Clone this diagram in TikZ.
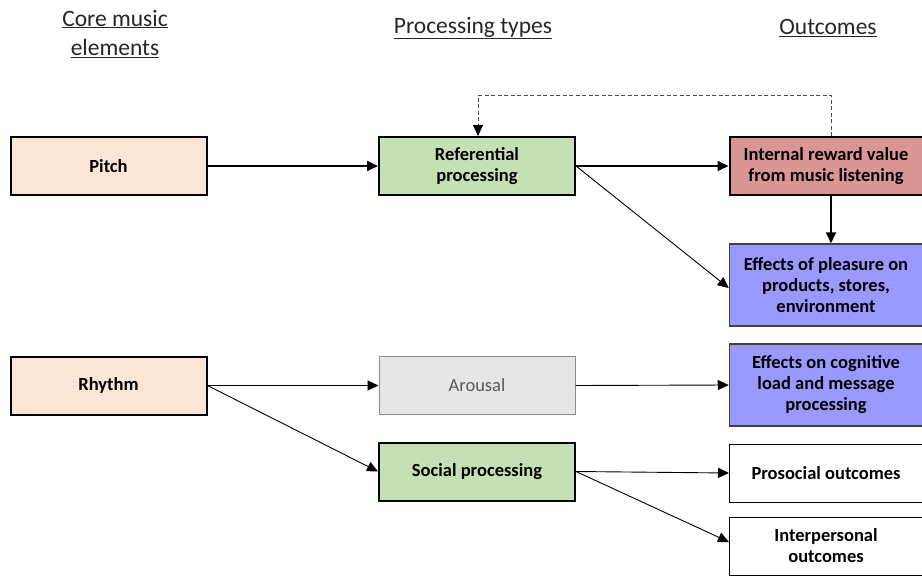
\documentclass[tikz,border=0pt]{standalone}
\usepackage{fontspec}
\setmainfont{Carlito}
\usetikzlibrary{arrows.meta}
\definecolor{peach}{HTML}{FBE5D6}
\definecolor{sage}{HTML}{C5E0B4}
\definecolor{rose}{HTML}{DA9694}
\definecolor{lilac}{HTML}{9999FF}
\definecolor{mist}{HTML}{E7E6E6}
\tikzset{
  box/.style={draw=black, line width=2pt, minimum width=196pt, minimum height=58pt,
    align=center, font=\fontsize{18.5}{21}\selectfont\bfseries, inner sep=2pt},
  outbox/.style={box, minimum width=193pt},
  head/.style={font=\fontsize{23.5}{30}\selectfont, align=center, text=black!85},
  link/.style={-{Triangle[length=11pt,width=10pt]}, line width=0.9pt},
  strong/.style={link, line width=1.8pt},
}
\begin{document}
\begin{tikzpicture}[x=1pt,y=-1pt]
\useasboundingbox (0,0) rectangle (922,576);
\clip (0,0) rectangle (922,576);

% column headings
\node[head] (h1) at (115,34) {\underline{Core music}\\\underline{elements}};
\node[head] (h2) at (473,28) {\underline{Processing types}};
\node[head] (h3) at (828,28) {\underline{Outcomes}};

% core elements
\node[box, fill=peach] (pitch) at (108.5,166) {Pitch};
\node[box, fill=peach] (rhythm) at (108.5,385.5) {Rhythm};

% processing types
\node[box, fill=sage] (ref) at (477,166) {Referential\\processing};
\node[box, fill=mist, draw=black!45, line width=1pt, font=\fontsize{18.5}{21}\selectfont, text=black!65] (arousal) at (477,385.5) {Arousal};
\node[box, fill=sage] (social) at (477,471.5) {Social processing};

% outcomes
\node[outbox, fill=rose] (reward) at (826,166) {Internal reward value\\from music listening};
\node[outbox, fill=lilac, draw=black!75, line width=1.5pt, minimum height=82pt] (pleasure) at (826,285) {Effects of pleasure on\\products, stores,\\environment};
\node[outbox, fill=lilac, draw=black!75, line width=1.5pt, minimum height=82pt] (cognitive) at (826,385) {Effects on cognitive\\load and message\\processing};
\node[outbox, fill=white, line width=1pt, minimum height=58pt] (prosocial) at (826,473) {Prosocial outcomes};
\node[outbox, fill=white, line width=1pt, minimum height=58pt] (interp) at (826,546) {Interpersonal\\outcomes};

% connectors
\draw[strong] (pitch.east) -- (ref.west);
\draw[strong] (ref.east) -- (reward.west);
\draw[strong] (reward.south -| 831,0) -- (pleasure.north -| 831,0);
\draw[link] (ref.east) -- ([yshift=-3pt]pleasure.west);
\draw[link] (rhythm.east) -- (arousal.west);
\draw[link] (rhythm.east) -- (social.west);
\draw[link] (arousal.east) -- (cognitive.west);
\draw[link] (social.east) -- (prosocial.west);
\draw[link] (social.east) -- ([yshift=4pt]interp.west);

% feedback loop
\coordinate (loopR) at (831,95);
\coordinate (loopL) at (478,95);
\draw[black!70, line width=0.9pt, dashed, dash pattern=on 4pt off 2.5pt]
  (reward.north -| loopR) -- (loopR) -- (loopL) -- ([yshift=10pt]ref.north -| loopL);
\draw[-{Triangle[length=11pt,width=10pt]}, line width=0.9pt] ([yshift=12pt]ref.north -| loopL) -- (ref.north -| loopL);
\end{tikzpicture}
\end{document}
